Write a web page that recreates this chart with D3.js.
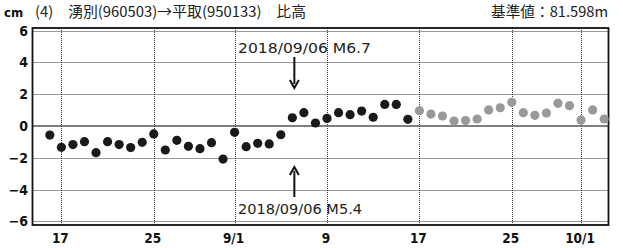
<!DOCTYPE html>
<html>
<head>
<meta charset="utf-8">
<script src="https://cdn.jsdelivr.net/npm/d3@7"></script>
<style>
  body { margin: 0; background: #fff; }
  svg { display: block; }
</style>
</head>
<body>
<svg id="chart" width="623" height="248"></svg>
<script>
// fixed (black) values, Aug 16 .. Sep 16
var fixedDates = ["2018-08-16","2018-08-17","2018-08-18","2018-08-19","2018-08-20","2018-08-21","2018-08-22","2018-08-23",
  "2018-08-24","2018-08-25","2018-08-26","2018-08-27","2018-08-28","2018-08-29","2018-08-30","2018-08-31",
  "2018-09-01","2018-09-02","2018-09-03","2018-09-04","2018-09-05","2018-09-06","2018-09-07","2018-09-08",
  "2018-09-09","2018-09-10","2018-09-11","2018-09-12","2018-09-13","2018-09-14","2018-09-15","2018-09-16"]
var fixedValues = [-0.57,-1.34,-1.17,-0.99,-1.68,-0.99,-1.17,-1.36,
  -1.03,-0.50,-1.51,-0.90,-1.28,-1.43,-1.05,-2.08,
  -0.40,-1.30,-1.09,-1.13,-0.55,0.52,0.84,0.19,
  0.48,0.84,0.71,0.94,0.55,1.36,1.36,0.42]

// quick (gray) values, Sep 17 .. Oct 3
var quickDates = ["2018-09-17","2018-09-18","2018-09-19","2018-09-20","2018-09-21","2018-09-22","2018-09-23","2018-09-24",
  "2018-09-25","2018-09-26","2018-09-27","2018-09-28","2018-09-29","2018-09-30","2018-10-01","2018-10-02","2018-10-03"]
var quickValues = [0.96,0.75,0.63,0.31,0.34,0.44,1.01,1.15,
  1.49,0.84,0.67,0.82,1.43,1.28,0.38,1.01,0.44]

var xTickDates = ["2018-08-17","2018-08-25","2018-09-01","2018-09-09","2018-09-17","2018-09-25","2018-10-01"]
var xTickLabels = ["17","25","9/1","9","17","25","10/1"]
var yTicks = [-6,-4,-2,0,2,4,6]

var quakes = [
  {date: "2018-09-06", label: "2018/09/06 M6.7", side: "top"},
  {date: "2018-09-06", label: "2018/09/06 M5.4", side: "bottom"}
]

var titleText = "(4)　湧別(960503)→平取(950133)　比高"
var baseText = "基準値：81.598m"

var parse = d3.timeParse("%Y-%m-%d")
var svg = d3.select("#chart")

// note: "top" is taken by window.top, so plot* names
var plotLeft = 32.5, plotRight = 608.5, plotTop = 28, plotBottom = 225

var x = d3.scaleTime()
    .domain([new Date(2018,7,14,12), new Date(2018,9,3,9)])
    .range([plotLeft, plotRight])
var y = d3.scaleLinear().domain([-6,6]).range([221.3, 30.7])

// snap to pixel so the dots stay sharp
function crisp(v) { return Math.round(v) + 0.5 }

var numFont = "'Liberation Sans Narrow','DejaVu Sans Condensed','Liberation Sans',sans-serif"
var jpFont = "'Noto Sans CJK JP',sans-serif"

// grid
var grid = svg.append("g")
grid.selectAll(".hg").data(yTicks.filter(function(d){ return d !== 0 }))
  .enter().append("line")
  .attr("x1", plotLeft).attr("x2", plotRight)
  .attr("y1", function(d){ return crisp(y(d)) }).attr("y2", function(d){ return crisp(y(d)) })
  .attr("stroke", "#333").attr("stroke-width", 1).attr("stroke-dasharray", "1,1")
grid.selectAll(".vg").data(xTickDates)
  .enter().append("line")
  .attr("x1", function(d){ return crisp(x(parse(d))) }).attr("x2", function(d){ return crisp(x(parse(d))) })
  .attr("y1", plotTop).attr("y2", plotBottom)
  .attr("stroke", "#333").attr("stroke-width", 1).attr("stroke-dasharray", "1,1")
svg.append("line")
  .attr("x1", plotLeft).attr("x2", plotRight).attr("y1", y(0)).attr("y2", y(0))
  .attr("stroke", "#555").attr("stroke-width", 1.5)

// frame
svg.append("rect")
  .attr("x", plotLeft).attr("y", plotTop).attr("width", plotRight-plotLeft).attr("height", plotBottom-plotTop)
  .attr("fill", "none").attr("stroke", "#111").attr("stroke-width", 1.8)

// y labels
svg.selectAll(".yl").data(yTicks).enter().append("text")
  .attr("x", 28).attr("y", function(d){ return y(d) + 5 })
  .attr("text-anchor", "end")
  .attr("font-family", numFont).attr("font-weight", "bold").attr("font-size", 14)
  .attr("fill", "#111")
  .text(function(d){ return d3.format("d")(d) })

// x labels
svg.selectAll(".xl").data(xTickDates).enter().append("text")
  .attr("x", function(d){ return x(parse(d)) - 1 }).attr("y", 243)
  .attr("text-anchor", "middle")
  .attr("font-family", numFont).attr("font-weight", "bold").attr("font-size", 13.5)
  .attr("fill", "#111")
  .text(function(d, i){ return xTickLabels[i] })

// titles
svg.append("text").attr("x", 4).attr("y", 17)
  .attr("font-family", numFont).attr("font-weight", "bold").attr("font-size", 13)
  .attr("fill", "#111").text("cm")
svg.append("text").attr("x", 35).attr("y", 17)
  .attr("font-family", jpFont).attr("font-size", 14.5).attr("fill", "#222")
  .attr("textLength", 271).attr("lengthAdjust", "spacingAndGlyphs")
  .text(titleText)
svg.append("text").attr("x", 491).attr("y", 17)
  .attr("font-family", jpFont).attr("font-size", 14.5).attr("fill", "#222")
  .attr("textLength", 117).attr("lengthAdjust", "spacingAndGlyphs")
  .text(baseText)

// earthquake annotations
quakes.forEach(function(q){
  var qx = x(parse(q.date)) + 2
  var ty = q.side === "top" ? 53 : 214
  svg.append("text").attr("x", 238).attr("y", ty)
    .attr("font-family", "'DejaVu Sans',sans-serif").attr("font-size", 14.5)
    .attr("fill", "#222")
    .attr("textLength", q.side === "top" ? 133 : 124).attr("lengthAdjust", "spacingAndGlyphs")
    .text(q.label)
  var y1 = q.side === "top" ? 57 : 197
  var y2 = q.side === "top" ? 88 : 167
  var dir = q.side === "top" ? 1 : -1
  svg.append("line").attr("x1", qx).attr("x2", qx).attr("y1", y1).attr("y2", y2 - dir*4)
    .attr("stroke", "#111").attr("stroke-width", 2)
  svg.append("path")
    .attr("d", "M" + (qx-4.5) + "," + (y2 - dir*8) + "L" + qx + "," + y2 + "L" + (qx+4.5) + "," + (y2 - dir*8))
    .attr("fill", "none").attr("stroke", "#111").attr("stroke-width", 2)
})

// points
svg.append("g").selectAll("circle").data(fixedDates).enter().append("circle")
  .attr("cx", function(d){ return x(parse(d)) })
  .attr("cy", function(d, i){ return y(fixedValues[i]) })
  .attr("r", 4.6).attr("fill", "#1a1a1a")
svg.append("g").selectAll("circle").data(quickDates).enter().append("circle")
  .attr("cx", function(d){ return x(parse(d)) })
  .attr("cy", function(d, i){ return y(quickValues[i]) })
  .attr("r", 4.6).attr("fill", "#999")
</script>
</body>
</html>
